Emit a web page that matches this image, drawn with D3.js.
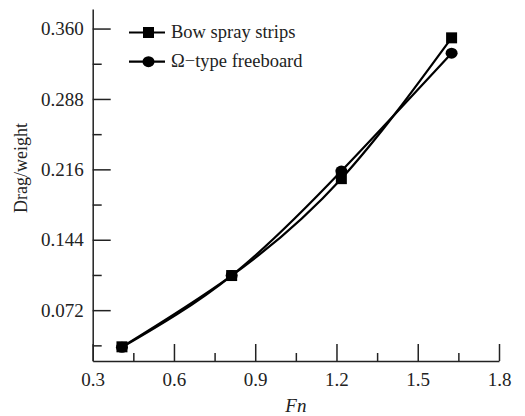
<!DOCTYPE html>
<html>
<head>
<meta charset="utf-8">
<script src="https://cdn.jsdelivr.net/npm/d3@7"></script>
<style>
  body { margin: 0; background: #fff; }
  svg text { font-family: 'Liberation Serif', 'Times New Roman', serif; }
</style>
</head>
<body>
<div id="chart"></div>
<script>
// Froude number samples and drag/weight for the two hull variants
const fn = [0.408, 0.813, 1.218, 1.625];
const bowSpray = [0.0345, 0.1074, 0.2065, 0.3505];
const omegaBoard = [0.034, 0.1074, 0.2143, 0.3348];

const xTicks = [0.3, 0.6, 0.9, 1.2, 1.5, 1.8];
const xMinor = [0.45, 0.75, 1.05, 1.35, 1.65];
const yTicks = [0.072, 0.144, 0.216, 0.288, 0.360];
const yMinor = [0.036, 0.108, 0.180, 0.252, 0.324];

const seriesNames = ['Bow spray strips', '\u03A9\u2212type freeboard'];

const width = 525, height = 416;
const ink = '#222';
const serif = "'Liberation Serif', 'Times New Roman', serif";

const svg = d3.select('#chart').append('svg')
    .attr('width', width)
    .attr('height', height)
    .attr('font-family', serif);

const x = d3.scaleLinear().domain([0.3, 1.8]).range([92.7, 499]);
const y = d3.scaleLinear().domain([0.02, 0.38]).range([361, 9]);

// axes - ticks point inward
svg.append('g')
    .attr('transform', `translate(0,${y(0.02)})`)
    .call(d3.axisBottom(x).tickValues(xTicks).tickFormat(d3.format('.1f'))
        .tickSizeInner(-17).tickSizeOuter(0).tickPadding(12));
svg.append('g')
    .attr('transform', `translate(0,${y(0.02)})`)
    .call(d3.axisBottom(x).tickValues(xMinor).tickFormat('').tickSizeInner(-8).tickSizeOuter(0))
    .select('.domain').remove();

svg.append('g')
    .attr('transform', `translate(${x(0.3)},0)`)
    .call(d3.axisLeft(y).tickValues(yTicks).tickFormat(d3.format('.3f'))
        .tickSizeInner(-18).tickSizeOuter(0).tickPadding(9));
svg.append('g')
    .attr('transform', `translate(${x(0.3)},0)`)
    .call(d3.axisLeft(y).tickValues(yMinor).tickFormat('').tickSizeInner(-9).tickSizeOuter(0))
    .select('.domain').remove();

svg.selectAll('g').attr('font-family', serif).attr('font-size', 19);
svg.selectAll('.domain, .tick line')
    .attr('stroke', ink)
    .attr('stroke-width', 1.5);
svg.selectAll('.tick text')
    .attr('fill', ink)
    .attr('font-family', serif)
    .attr('font-size', 19);

// axis titles
svg.append('text')
    .attr('x', (x(0.3) + x(1.8)) / 2)
    .attr('y', 412)
    .attr('text-anchor', 'middle')
    .attr('font-family', serif)
    .attr('font-size', 19)
    .attr('font-style', 'italic')
    .attr('fill', ink)
    .text('Fn');

svg.append('text')
    .attr('transform', 'translate(27,168) rotate(-90)')
    .attr('text-anchor', 'middle')
    .attr('font-family', serif)
    .attr('font-size', 18)
    .attr('fill', ink)
    .text('Drag/weight');

// smooth curves
const line = d3.line()
    .x(d => x(d[0]))
    .y(d => y(d[1]))
    .curve(d3.curveNatural);

const bowPts = fn.map((f, i) => [f, bowSpray[i]]);
const omegaPts = fn.map((f, i) => [f, omegaBoard[i]]);

[bowPts, omegaPts].forEach(pts => {
    svg.append('path')
        .datum(pts)
        .attr('d', line)
        .attr('fill', 'none')
        .attr('stroke', '#000')
        .attr('stroke-width', 2.2);
});

// markers
svg.append('g').selectAll('rect')
    .data(bowPts)
    .join('rect')
    .attr('x', d => x(d[0]) - 5.5)
    .attr('y', d => y(d[1]) - 5.5)
    .attr('width', 11)
    .attr('height', 11)
    .attr('fill', '#000');

svg.append('g').selectAll('ellipse')
    .data(omegaPts)
    .join('ellipse')
    .attr('cx', d => x(d[0]))
    .attr('cy', d => y(d[1]))
    .attr('rx', 6)
    .attr('ry', 5.5)
    .attr('fill', '#000');

// legend
const legend = svg.append('g');
const legendRows = [32.5, 61.7];
seriesNames.forEach((name, i) => {
    const g = legend.append('g').attr('transform', `translate(0,${legendRows[i]})`);
    g.append('line')
        .attr('x1', 129).attr('x2', 165)
        .attr('stroke', '#000').attr('stroke-width', 2.2);
    if (i === 0) {
        g.append('rect').attr('x', 143).attr('y', -5.5).attr('width', 11).attr('height', 11).attr('fill', '#000');
    } else {
        g.append('ellipse').attr('cx', 148.5).attr('rx', 6).attr('ry', 5.5).attr('fill', '#000');
    }
    g.append('text')
        .attr('x', 171)
        .attr('y', 5)
        .attr('font-family', serif)
        .attr('font-size', 18.5)
        .attr('fill', ink)
        .text(name);
});
</script>
</body>
</html>
